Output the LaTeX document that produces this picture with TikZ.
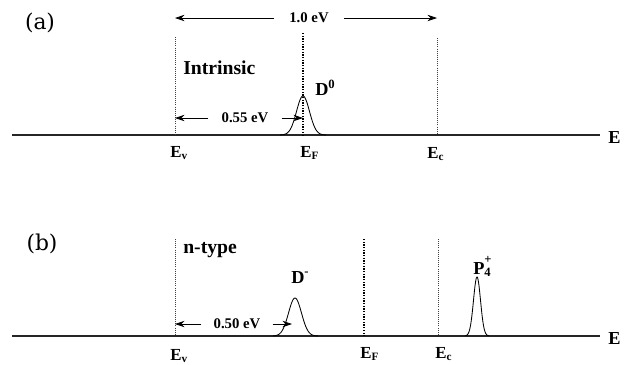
\documentclass[tikz,border=0pt]{standalone}
\usepackage{fontspec}
\setmainfont{Liberation Serif}
\newfontfamily\panelfont{DejaVu Serif}
\usetikzlibrary{positioning, arrows.meta}

\newcommand{\lvl}[1]{E\raisebox{-0.3ex}{\fontsize{8}{8}\selectfont #1}}

\begin{document}
\begin{tikzpicture}[x=0.25mm, y=-0.25mm, font=\bfseries\fontsize{12}{14}\selectfont,
        level/.style={densely dotted, line width=0.5pt, black!75},
        fermi/.style={densely dotted, line width=0.9pt, black},
        axis/.style={line width=1pt, black!85},
        peak/.style={line width=0.6pt, black},
        gap/.style={-{Stealth[length=2.4mm, width=1.6mm]}, line width=0.5pt},
        eV/.style={font=\bfseries\fontsize{10.5}{12}\selectfont, inner ysep=0pt},
        tag/.style={anchor=base west, inner sep=0pt}]
    \useasboundingbox (0,0) rectangle (626,364);

        \node[font=\panelfont\fontsize{15.5}{18}\selectfont] (pa) at (40,23) {(a)};
        \coordinate (axAl) at (12,135);
        \coordinate (axAr) at (600,135);
        \draw[axis] (axAl) -- (axAr);
        \node[tag, font=\bfseries\fontsize{13}{14}\selectfont] (enA) at (608,143) {E};
        \coordinate (evA) at (175,135);
        \coordinate (evAt) at (175,37);
        \coordinate (efA) at (303,135);
        \coordinate (efAt) at (303,33);
        \coordinate (ecA) at (437,135);
        \coordinate (ecAt) at (437,38);
        \draw[level] (evAt) -- (evA);
        \draw[fermi] (efAt) -- (efA);
        \draw[level] (ecAt) -- (ecA);
        \node[tag] (levA) at (170,157) {\lvl{v}};
        \node[tag] (lefA) at (300,157) {\lvl{F}};
        \node[tag] (lecA) at (427,158) {\lvl{c}};
        \node[eV, inner xsep=10.6pt] (gapA) at (309,18) {1.0 eV};
        \draw[gap] (gapA.west) -- (gapA.west -| evA);
        \draw[gap] (gapA.east) -- (gapA.east -| ecA);
        \node[eV, inner xsep=9.2pt] (gapA2) at (245,118) {0.55 eV};
        \draw[gap] (gapA2.west) -- (gapA2.west -| evA);
        \draw[gap] (gapA2.east) -- (gapA2.east -| efA);
        \node[tag, font=\bfseries\fontsize{14}{16}\selectfont] (intr) at (183,74) {Intrinsic};
        \node[tag, font=\bfseries\fontsize{13}{14}\selectfont] (dzero) at (315,95)
            {D\raisebox{0.75ex}{\fontsize{9}{9}\selectfont 0}};
        \draw[peak] plot[domain=280:326, samples=60] (\x, {135-39*exp(-((\x-303)^2)/84)});

        \node[font=\panelfont\fontsize{15.5}{18}\selectfont] (pb) at (42,244) {(b)};
        \coordinate (axBl) at (12,336);
        \coordinate (axBr) at (600,336);
        \draw[axis] (axBl) -- (axBr);
        \node[tag, font=\bfseries\fontsize{13}{14}\selectfont] (enB) at (608,344) {E};
        \coordinate (evB) at (175,336);
        \coordinate (evBt) at (175,239);
        \coordinate (efB) at (364,336);
        \coordinate (efBt) at (364,239);
        \coordinate (ecB) at (438,336);
        \coordinate (ecBt) at (438,239);
        \draw[level] (evBt) -- (evB);
        \draw[fermi] (efBt) -- (efB);
        \draw[level] (ecBt) -- (ecB);
        \node[tag] (levB) at (170,360) {\lvl{v}};
        \node[tag] (lefB) at (360,358) {\lvl{F}};
        \node[tag] (lecB) at (435,358) {\lvl{c}};
        \node[tag, font=\bfseries\fontsize{14}{16}\selectfont] (ntyp) at (183,253) {n-type};
        \coordinate (dmtip) at (292,324);
        \node[eV, inner xsep=8.5pt] (gapB) at (237,324) {0.50 eV};
        \draw[gap] (gapB.west) -- (gapB.west -| evB);
        \draw[gap] (gapB.east) -- (dmtip);
        \node[tag, font=\bfseries\fontsize{13}{14}\selectfont] (dminus) at (291,283)
            {D\raisebox{0.9ex}{\fontsize{9}{9}\selectfont -}};
        \draw[peak] plot[domain=273:318, samples=60] (\x, {336-38*exp(-((\x-295)^2)/84)});
        \node[tag, font=\bfseries\fontsize{13}{14}\selectfont] (pfour) at (473,274)
            {P\makebox[0pt][l]{\raisebox{-0.3ex}{\fontsize{9}{9}\selectfont 4}}\raisebox{1.2ex}{\fontsize{9}{9}\selectfont +}};
        \draw[peak] plot[domain=465:489, samples=60] (\x, {336-59*exp(-((\x-477)^2)/24.5)});
    \end{tikzpicture}
\end{document}
